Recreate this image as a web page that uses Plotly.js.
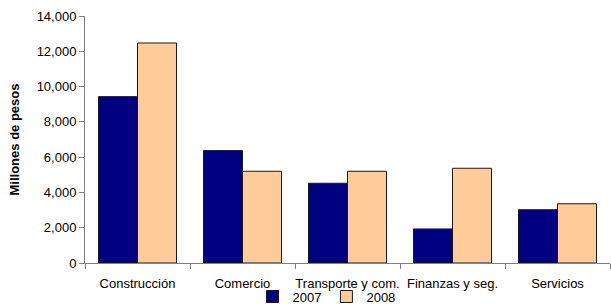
<!DOCTYPE html>
<html>
<head>
<meta charset="utf-8">
<script src="https://cdn.plot.ly/plotly-3.0.1.min.js"></script>
<style>html,body{margin:0;padding:0;background:#fff;}#chart{width:611px;height:306px;}</style>
</head>
<body>
<div id="chart"></div>
<script>
var categories = ["Construcción", "Comercio", "Transporte y com.", "Finanzas y seg.", "Servicios"];
var values2007 = [9430, 6370, 4520, 1930, 3020];
var values2008 = [12470, 5200, 5200, 5370, 3360];
var seriesNames = ["2007", "2008"];
var yTicks = [0, 2000, 4000, 6000, 8000, 10000, 12000, 14000];

var font = "Liberation Sans, Arial, sans-serif";
var data = [
  {type: "bar", name: seriesNames[0], x: categories, y: values2007,
   marker: {color: "#000080", line: {color: "#1a1a1a", width: 1}}},
  {type: "bar", name: seriesNames[1], x: categories, y: values2008,
   marker: {color: "#FFCC99", line: {color: "#1a1a1a", width: 1}}}
];
var layout = {
  width: 611, height: 306,
  margin: {l: 85, r: 1, t: 16, b: 43, pad: 0},
  paper_bgcolor: "#fff", plot_bgcolor: "#fff",
  font: {family: font, size: 13, color: "#000"},
  barmode: "group", bargap: 0.257, bargroupgap: 0,
  showlegend: true,
  legend: {orientation: "h", x: 0.46, xanchor: "center", xref: "paper",
           y: 0.08, yanchor: "top", yref: "container",
           font: {family: font, size: 13, color: "#000"}, itemwidth: 30,
           bgcolor: "rgba(0,0,0,0)", tracegroupgap: 0},
  xaxis: {showline: true, linecolor: "#808080", linewidth: 1, showgrid: false,
          ticks: "outside", tickson: "boundaries", ticklen: 5, tickcolor: "#808080",
          tickangle: 0, automargin: false,
          ticklabelstandoff: 8, tickfont: {family: font, size: 13}},
  yaxis: {range: [0, 14000], tickvals: yTicks, tickformat: ",d", automargin: false,
          showline: true, linecolor: "#808080", linewidth: 1, showgrid: false, zeroline: false,
          ticks: "outside", ticklen: 5, tickcolor: "#808080",
          tickfont: {family: font, size: 13},
          title: {text: "<b>Millones de pesos</b>", font: {family: font, size: 13}, standoff: 14}}
};
Plotly.newPlot("chart", data, layout, {displayModeBar: false, staticPlot: true});
</script>
</body>
</html>
